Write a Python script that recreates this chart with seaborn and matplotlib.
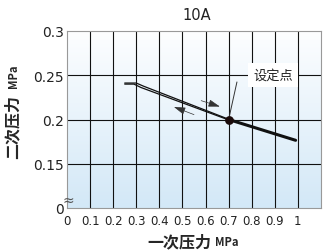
import numpy as np
import pandas as pd
import matplotlib
matplotlib.use("Agg")
import matplotlib.pyplot as plt
import seaborn as sns
from matplotlib.colors import LinearSegmentedColormap

# ---- data ----
title = "10A"
xticks = [0, 0.1, 0.2, 0.3, 0.4, 0.5, 0.6, 0.7, 0.8, 0.9, 1.0]
xticklabels = ["0", "0.1", "0.2", "0.3", "0.4", "0.5", "0.6", "0.7", "0.8", "0.9", "1"]
yticks = [0.10, 0.15, 0.20, 0.25, 0.30]          # 0.10 position carries the broken-axis "0"
yticklabels = ["0", "0.15", "0.2", "0.25", "0.3"]

up_x = [0.25, 0.30, 0.33, 0.70]
up_y = [0.2412, 0.2412, 0.2378, 0.2003]
down_x = [0.25, 0.29, 0.32, 0.70]
down_y = [0.2400, 0.2400, 0.2362, 0.1995]
main_x = [0.70, 0.99]
main_y = [0.200, 0.1765]

set_x, set_y = 0.70, 0.200
set_label = "设定点"

sns.set_style("white")
plt.rcParams['font.family'] = ['DejaVu Sans']

fig = plt.figure(figsize=(3.26, 2.51), dpi=100)
ax = fig.add_axes([67/326, 1-209/251, 254/326, 177/251])

# gradient background: white at top, light blue at bottom
cmap = LinearSegmentedColormap.from_list("bg", ["#fdfeff", "#d3e8f7"])
grad = np.linspace(1, 0, 256).reshape(-1, 1)
ax.imshow(grad, aspect="auto", cmap=cmap, extent=[0, 1.1, 0.1, 0.3], origin="lower", zorder=0)

ax.set_xlim(0, 1.1)
ax.set_ylim(0.1, 0.3)

for xv in xticks[1:]:
    ax.axvline(xv, color="#111111", lw=0.8, zorder=1)
for yv in [0.15, 0.2, 0.25]:
    ax.axhline(yv, color="#111111", lw=0.8, zorder=1)

df_up = pd.DataFrame({"x": up_x, "y": up_y})
df_down = pd.DataFrame({"x": down_x, "y": down_y})
df_main = pd.DataFrame({"x": main_x, "y": main_y})
sns.lineplot(data=df_up, x="x", y="y", sort=False, color="#111111", lw=0.9, ax=ax, zorder=3)
sns.lineplot(data=df_down, x="x", y="y", sort=False, color="#111111", lw=0.9, ax=ax, zorder=3)
sns.lineplot(data=df_main, x="x", y="y", sort=False, color="#111111", lw=2.2, ax=ax, zorder=3)
ax.scatter([set_x], [set_y], s=28, color="#1a0a0a", zorder=5)

# arrows
aprops = dict(arrowstyle="-|>,head_length=0.7,head_width=0.22", color="#333333", lw=0.5,
              shrinkA=0, shrinkB=0)
ax.annotate("", xy=(0.662, 0.2146), xytext=(0.581, 0.2213), arrowprops=aprops, zorder=4)
ax.annotate("", xy=(0.463, 0.2142), xytext=(0.550, 0.2055), arrowprops=aprops, zorder=4)

# set point label with leader
ax.plot([0.736, set_x], [0.2424, set_y], color="#333333", lw=0.7, zorder=4)
ax.text(0.892, 0.25, set_label, ha="center", va="center", fontsize=9.5,
        family=["Noto Sans CJK SC", "DejaVu Sans"], color="#222222",
        bbox=dict(boxstyle="square,pad=0.4", fc="white", ec="none"), zorder=6)

# axis break mark
ax.text(0.006, 0.1095, "≈", ha="center", va="center", fontsize=10, color="#555555", zorder=6, clip_on=False)

ax.set_xticks(xticks)
ax.set_xticklabels(xticklabels, fontsize=8.5, family=["Liberation Sans Narrow", "DejaVu Sans"], color="#222222")
ax.set_yticks(yticks)
ax.set_yticklabels(yticklabels, fontsize=10, color="#222222")
ax.tick_params(axis="x", length=0, pad=4)
ax.tick_params(axis="y", length=0, pad=2)
ax.set_xlabel("")
ax.set_ylabel("")
for s in ax.spines.values():
    s.set_color("#999999")
    s.set_linewidth(0.8)

fig.text(197/326, 1-16/251, title, ha="center", va="center", fontsize=10.5, color="#222222")

cjk = ["Noto Sans CJK SC", "DejaVu Sans"]
fig.text(179/326, 1-242/251, "一次压力", ha="center", va="center", fontsize=11.5, weight="bold", family=cjk)
fig.text(227/326, 1-243/251, "MPa", ha="center", va="center", fontsize=8, weight="bold", family=cjk)
fig.text(13/326, 1-127/251, "二次压力", ha="center", va="center", fontsize=11.5, weight="bold", family=cjk, rotation=90)
fig.text(14/326, 1-76/251, "MPa", ha="center", va="center", fontsize=8, weight="bold", family=cjk, rotation=90)

fig.savefig("out.png", dpi=100)
